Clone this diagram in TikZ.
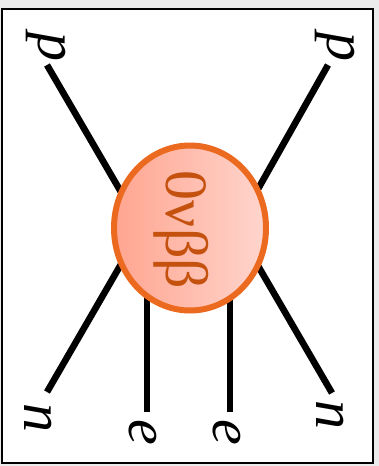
\documentclass[tikz,border=0pt]{standalone}
\usepackage{fontspec}
\setmainfont{Liberation Serif}
\usetikzlibrary{shapes.geometric}
\definecolor{DBFrame}{HTML}{EBEBEB}
\definecolor{DBOrange}{HTML}{EB6A1F}
\definecolor{DBBlobL}{HTML}{FFA590}
\definecolor{DBBlobR}{HTML}{FFD5CD}
\definecolor{DBText}{HTML}{C4520E}
\tikzset{
  leg/.style={line width=3.3pt},
  lbl/.style={rotate=-90,inner sep=0pt,font=\fontsize{29}{32}\selectfont\itshape},
}

\begin{document}
\begin{tikzpicture}[x=0.5pt,y=-0.5pt]
\path[use as bounding box] (0,0) rectangle (379,466);
\fill[DBFrame] (0,0) rectangle (379,466);
\draw[fill=white,line width=1pt] (1.5,8.5) rectangle (372.5,462.5);
% vertices, hidden under the blob
\coordinate (vL) at (142,228);
\coordinate (vR) at (236,228);
\coordinate (eLtop) at (147,228);
\coordinate (eRtop) at (230,228);
% free ends of the legs
\coordinate (pLend) at (47,65);
\coordinate (pRend) at (328,65);
\coordinate (nLend) at (47,392);
\coordinate (nRend) at (332,393);
\coordinate (eLend) at (147,412);
\coordinate (eRend) at (230,412);
\draw[leg] (pLend) -- (vL);
\draw[leg] (nLend) -- (vL);
\draw[leg] (pRend) -- (vR);
\draw[leg] (nRend) -- (vR);
\draw[leg] (eLend) -- (eLtop);
\draw[leg] (eRend) -- (eRtop);
\node[ellipse,draw=DBOrange,line width=3pt,left color=DBBlobL,right color=DBBlobR,
  minimum width=76pt,minimum height=82.5pt,inner sep=0pt] (blob) at (190,228) {};
\node[rotate=-90,inner sep=0pt,text=DBText,font=\fontsize{30}{33}\selectfont] (rate) at (181,230) {0νββ};
% outer labels
\node[lbl] (pL) at (46,47) {p};
\node[lbl] (pR) at (335,47) {p};
\node[lbl] (nL) at (38,418) {n};
\node[lbl] (nR) at (330,415) {n};
\node[lbl] (eL) at (143,432) {e};
\node[lbl] (eR) at (227,432) {e};
\end{tikzpicture}
\end{document}
